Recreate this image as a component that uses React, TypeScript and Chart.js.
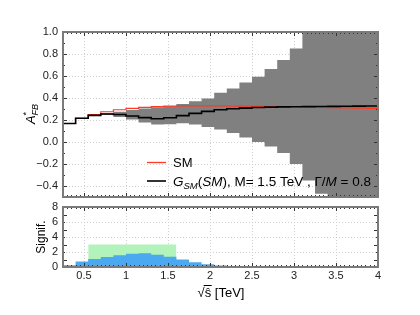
import React, { useEffect, useRef } from "react";
import { Chart, registerables } from "chart.js";
Chart.register(...registerables);

const FONT = '"Liberation Sans", Arial, Helvetica, sans-serif';

const BIN_EDGES = [0.25, 0.4, 0.55, 0.7, 0.85, 1.0, 1.15, 1.3, 1.45, 1.6, 1.75, 1.9, 2.05, 2.2, 2.35, 2.5, 2.65, 2.8, 2.95, 3.1, 3.25, 3.4, 3.55, 3.7, 3.85, 4.0];
const AFB_GSM = [0.168, 0.216, 0.242, 0.254, 0.25, 0.236, 0.222, 0.212, 0.22, 0.24, 0.26, 0.278, 0.293, 0.302, 0.308, 0.313, 0.317, 0.319, 0.321, 0.322, 0.323, 0.324, 0.325, 0.326, 0.327];
const AFB_SM = [0.168, 0.216, 0.25, 0.275, 0.293, 0.305, 0.315, 0.321, 0.326, 0.328, 0.329, 0.329, 0.328, 0.327, 0.326, 0.324, 0.322, 0.32, 0.318, 0.316, 0.314, 0.312, 0.31, 0.308, 0.306];
const BAND_UP = [0.168, 0.218, 0.245, 0.262, 0.275, 0.29, 0.305, 0.315, 0.325, 0.345, 0.37, 0.396, 0.447, 0.487, 0.54, 0.593, 0.663, 0.745, 0.85, 0.99, 1.12, 1.3, 1.5, 1.7, 1.9];
const BAND_LO = [0.168, 0.214, 0.238, 0.245, 0.228, 0.205, 0.177, 0.16, 0.162, 0.17, 0.158, 0.137, 0.113, 0.082, 0.04, 0.0, -0.04, -0.1, -0.2, -0.35, -0.47, -0.65, -0.85, -1.05, -1.25];
const SIGNIF = [0.25, 0.74, 1.08, 1.33, 1.58, 1.78, 1.82, 1.65, 1.36, 1.0, 0.62, 0.38, 0.2, 0.11, 0.06, 0.04, 0.03, 0.02, 0.02, 0.01, 0.01, 0.01, 0.01, 0.01, 0.01];
const WINDOW_RANGE = [0.55, 1.6];
const WINDOW_VALUE = 3;

const X_TICKS = [0.5, 1, 1.5, 2, 2.5, 3, 3.5, 4];
const Y_TICKS_TOP = [-0.4, -0.2, 0.0, 0.2, 0.4, 0.6, 0.8, 1.0];
const Y_TICKS_BOT = [0, 2, 4, 6, 8];

const RED = "#ff3a22";
const GRAY = "#808080";
const BLUE = "#4aa9f0";
const GREEN = "#b2f2bb";

function stepData(vals: number[]) {
  const pts = vals.map((v, i) => ({ x: BIN_EDGES[i], y: v }));
  pts.push({ x: BIN_EDGES[vals.length], y: vals[vals.length - 1] });
  return pts;
}

function framePlugin(xMinor: number, yMinor: number) {
  return {
    id: "frame",
    afterDraw(chart: any) {
      const { ctx, chartArea: a, scales } = chart;
      ctx.save();
      ctx.strokeStyle = "#333";
      ctx.lineWidth = 1;
      const xs = scales.x, ys = scales.y;
      const nx = Math.round((xs.max - xs.min) / xMinor);
      for (let i = 1; i < nx; i++) {
        const v = xs.min + i * xMinor;
        const major = Math.abs(v / 0.5 - Math.round(v / 0.5)) < 1e-6;
        const len = major ? 4 : 2;
        const px = Math.round(xs.getPixelForValue(v)) + 0.5;
        ctx.beginPath();
        ctx.moveTo(px, a.top); ctx.lineTo(px, a.top + len);
        ctx.moveTo(px, a.bottom); ctx.lineTo(px, a.bottom - len);
        ctx.stroke();
      }
      const ny = Math.round((ys.max - ys.min) / yMinor);
      for (let i = 1; i < ny; i++) {
        const v = ys.min + i * yMinor;
        const py = Math.round(ys.getPixelForValue(v)) + 0.5;
        const len = i % 2 === 0 ? 2 : 4;
        ctx.beginPath();
        ctx.moveTo(a.left, py); ctx.lineTo(a.left + len, py);
        ctx.moveTo(a.right, py); ctx.lineTo(a.right - len, py);
        ctx.stroke();
      }
      ctx.strokeStyle = "#7a7a7a";
      ctx.lineWidth = 2;
      ctx.strokeRect(a.left, a.top, a.right - a.left, a.bottom - a.top);
      ctx.restore();
    },
  };
}

type Seg = { t: string; size: number; italic?: boolean; dy?: number };
function drawSegs(ctx: CanvasRenderingContext2D, segs: Seg[], x: number, y: number) {
  let cx = x;
  for (const s of segs) {
    ctx.font = `${s.italic ? "italic " : ""}${s.size}px ${FONT}`;
    ctx.fillText(s.t, cx, y + (s.dy || 0));
    cx += ctx.measureText(s.t).width;
  }
  return cx;
}
function segsWidth(ctx: CanvasRenderingContext2D, segs: Seg[]) {
  let w = 0;
  for (const s of segs) {
    ctx.font = `${s.italic ? "italic " : ""}${s.size}px ${FONT}`;
    w += ctx.measureText(s.t).width;
  }
  return w;
}

const topTextPlugin = {
  id: "topText",
  afterDraw(chart: any) {
    const ctx: CanvasRenderingContext2D = chart.ctx;
    ctx.save();
    ctx.lineWidth = 1.3;
    ctx.strokeStyle = RED;
    ctx.beginPath(); ctx.moveTo(147, 162.5); ctx.lineTo(166, 162.5); ctx.stroke();
    ctx.lineWidth = 1.6;
    ctx.strokeStyle = "#000";
    ctx.beginPath(); ctx.moveTo(147, 181); ctx.lineTo(166, 181); ctx.stroke();
    ctx.fillStyle = "#000";
    ctx.textBaseline = "alphabetic";
    ctx.textAlign = "left";
    drawSegs(ctx, [{ t: "SM", size: 13 }], 173, 167);
    drawSegs(ctx, [
      { t: "G", size: 13.5, italic: true },
      { t: "SM", size: 9.5, italic: true, dy: 3 },
      { t: "(", size: 13.5 },
      { t: "SM", size: 13.5, italic: true },
      { t: "), M= 1.5 TeV , Γ/", size: 13.5 },
      { t: "M", size: 13.5, italic: true },
      { t: " = 0.8", size: 13.5 },
    ], 173, 185.5);
    ctx.translate(30, 114);
    ctx.rotate(-Math.PI / 2);
    ctx.font = `italic 13px ${FONT}`;
    const wA = ctx.measureText("A").width;
    ctx.font = `italic 9px ${FONT}`;
    const wFB = ctx.measureText("FB").width;
    const total = wA + wFB;
    const x0 = -total / 2;
    ctx.font = `italic 13px ${FONT}`;
    ctx.fillText("A", x0, 4.5);
    ctx.font = `9px ${FONT}`;
    ctx.fillText("*", x0 + wA, -1.5);
    ctx.font = `italic 9px ${FONT}`;
    ctx.fillText("FB", x0 + wA, 7.5);
    ctx.restore();
  },
};

const botTextPlugin = {
  id: "botText",
  afterDraw(chart: any) {
    const ctx: CanvasRenderingContext2D = chart.ctx;
    const ys = chart.scales.y;
    ctx.save();
    ctx.fillStyle = "#222";
    // y tick labels of the lower panel
    ctx.font = `11px ${FONT}`;
    ctx.textAlign = "right";
    ctx.textBaseline = "middle";
    for (const v of Y_TICKS_BOT) {
      ctx.fillText(String(v), chart.chartArea.left - 5, ys.getPixelForValue(v));
    }
    ctx.fillStyle = "#000";
    ctx.textBaseline = "alphabetic";
    ctx.textAlign = "left";
    const segs: Seg[] = [{ t: "√", size: 13 }, { t: "ŝ", size: 13 }, { t: " [TeV]", size: 13 }];
    const w = segsWidth(ctx, segs);
    const x0 = 221 - w / 2;
    const yb = 97;
    drawSegs(ctx, segs, x0, yb);
    ctx.font = `13px ${FONT}`;
    const wr = ctx.measureText("√").width;
    const ws = ctx.measureText("ŝ").width;
    ctx.strokeStyle = "#000";
    ctx.lineWidth = 1;
    ctx.beginPath();
    ctx.moveTo(x0 + wr - 1, yb - 11.5);
    ctx.lineTo(x0 + wr + ws + 0.5, yb - 11.5);
    ctx.stroke();
    ctx.translate(41, 37);
    ctx.rotate(-Math.PI / 2);
    ctx.font = `12px ${FONT}`;
    ctx.textAlign = "center";
    ctx.fillText("Signif.", 0, 4);
    ctx.restore();
  },
};

const fmtTop = (v: number) => v.toFixed(1).replace("-", "\u2212");
const noPad = (s: any) => { s.paddingTop = 0; s.paddingBottom = 0; s.paddingLeft = 0; s.paddingRight = 0; };

export default function App() {
  const topRef = useRef<HTMLCanvasElement | null>(null);
  const botRef = useRef<HTMLCanvasElement | null>(null);

  useEffect(() => {
    const gridCommon = { color: "#cfcfcf", lineWidth: 1, drawTicks: false };
    const tickFont = { family: FONT, size: 11, lineHeight: 1 };
    const top = new Chart(topRef.current as HTMLCanvasElement, {
      type: "line",
      data: {
        datasets: [
          { label: "G", data: stepData(AFB_GSM), borderColor: "#000", borderWidth: 1.6, stepped: "before", pointRadius: 0, fill: false, order: 0 },
          { label: "SM", data: stepData(AFB_SM), borderColor: RED, borderWidth: 1.2, stepped: "before", pointRadius: 0, fill: false, order: 1 },
          { label: "up", data: stepData(BAND_UP), borderColor: GRAY, borderWidth: 0, stepped: "before", pointRadius: 0, fill: "+1", backgroundColor: GRAY, order: 2 },
          { label: "lo", data: stepData(BAND_LO), borderColor: GRAY, borderWidth: 0, stepped: "before", pointRadius: 0, fill: false, order: 3 },
        ] as any,
      },
      options: {
        animation: false,
        responsive: false,
        devicePixelRatio: 1,
        layout: { padding: { left: 0, right: 42, top: 32, bottom: 3 } },
        plugins: { legend: { display: false }, tooltip: { enabled: false } },
        scales: {
          x: {
            type: "linear", min: 0.25, max: 4,
            afterBuildTicks: (s: any) => { s.ticks = X_TICKS.map((v) => ({ value: v })); },
            ticks: { display: false, autoSkip: false },
            grid: gridCommon,
            border: { display: false, dash: [1, 2] },
            afterFit: (s: any) => { s.height = 0; noPad(s); },
          },
          y: {
            min: -0.5, max: 1.0,
            afterBuildTicks: (s: any) => { s.ticks = Y_TICKS_TOP.map((v) => ({ value: v })); },
            ticks: { font: tickFont, color: "#222", padding: 5, autoSkip: false, callback: (v: any) => fmtTop(Number(v)) },
            grid: gridCommon,
            border: { display: false, dash: [1, 2] },
            afterFit: (s: any) => { s.width = 63; noPad(s); },
          },
        },
      } as any,
      plugins: [framePlugin(0.05, 0.1), topTextPlugin],
    });

    const bot = new Chart(botRef.current as HTMLCanvasElement, {
      type: "line",
      data: {
        datasets: [
          { label: "sig", data: stepData(SIGNIF), borderWidth: 0, borderColor: BLUE, backgroundColor: BLUE, stepped: "before", pointRadius: 0, fill: "origin", order: 0 },
          { label: "win", data: [{ x: WINDOW_RANGE[0], y: WINDOW_VALUE }, { x: WINDOW_RANGE[1], y: WINDOW_VALUE }], borderWidth: 0, borderColor: GREEN, backgroundColor: GREEN, stepped: "before", pointRadius: 0, fill: "origin", order: 1 },
        ] as any,
      },
      options: {
        animation: false,
        responsive: false,
        devicePixelRatio: 1,
        layout: { padding: { left: 0, right: 42, top: 7, bottom: 0 } },
        plugins: { legend: { display: false }, tooltip: { enabled: false } },
        scales: {
          x: {
            type: "linear", min: 0.25, max: 4,
            afterBuildTicks: (s: any) => { s.ticks = X_TICKS.map((v) => ({ value: v })); },
            ticks: { font: tickFont, color: "#222", padding: 3, maxRotation: 0, autoSkip: false, callback: (v: any) => String(Number(v)) },
            grid: gridCommon,
            border: { display: false, dash: [1, 2] },
            afterFit: (s: any) => { s.height = 48; noPad(s); },
          },
          y: {
            min: 0, max: 8,
            afterBuildTicks: (s: any) => { s.ticks = Y_TICKS_BOT.map((v) => ({ value: v })); },
            ticks: { display: false },
            grid: gridCommon,
            border: { display: false, dash: [1, 2] },
            afterFit: (s: any) => { s.width = 63; noPad(s); },
          },
        },
      } as any,
      plugins: [framePlugin(0.05, 1), botTextPlugin],
    });

    return () => { top.destroy(); bot.destroy(); };
  }, []);

  return (
    <div style={{ position: "fixed", left: 0, top: 0, width: 420, height: 315, background: "#fff" }}>
      <canvas ref={topRef} width={420} height={200} style={{ position: "absolute", left: 0, top: 0, width: 420, height: 200 }} />
      <canvas ref={botRef} width={420} height={115} style={{ position: "absolute", left: 0, top: 200, width: 420, height: 115 }} />
    </div>
  );
}
